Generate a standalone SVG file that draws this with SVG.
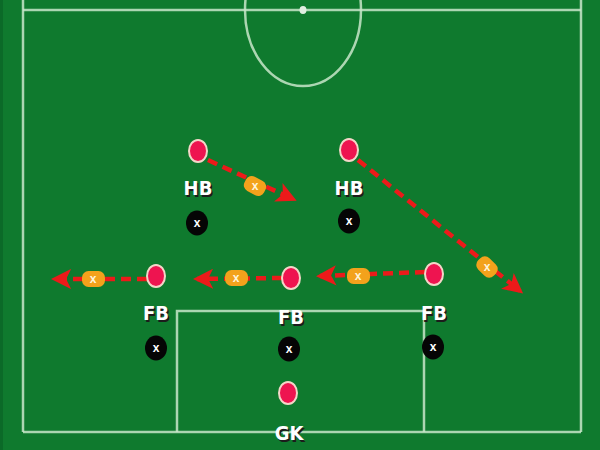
<svg xmlns="http://www.w3.org/2000/svg" width="600" height="450" viewBox="0 0 600 450">
<defs>
<style>
.line{fill:none;stroke:#c8e6c9;stroke-width:2.5;opacity:0.85}
.player{fill:#ee1450;stroke:#f4d6c8;stroke-width:2}
.opp{fill:#050505}
.lbl{font-family:"DejaVu Sans Condensed","Liberation Sans",Arial,sans-serif;font-weight:bold;font-size:20px;fill:#ffffff;text-anchor:middle}
.shadow{font-family:"DejaVu Sans Condensed","Liberation Sans",Arial,sans-serif;font-weight:bold;font-size:20px;fill:#1c1c1c;text-anchor:middle}
.ox{font-family:"Liberation Sans",Arial,sans-serif;font-weight:bold;font-size:12px;fill:#ffffff;text-anchor:middle}
.ball{fill:#f3a21c}
.bx{font-family:"Liberation Sans",Arial,sans-serif;font-weight:bold;font-size:12px;fill:#fff4d8;text-anchor:middle}
.run{fill:none;stroke:#ec1a1a;stroke-width:4.5;stroke-dasharray:10 6}
</style>
<marker id="ah" viewBox="0 0 10 10" refX="8" refY="5" markerWidth="4.5" markerHeight="4.5" orient="auto" markerUnits="strokeWidth">
<path d="M0,0 L10,5 L0,10 L2.5,5 Z" fill="#ec1a1a"/>
</marker>
</defs>
<rect x="0" y="0" width="600" height="450" fill="#0f7a2e"/>
<rect x="0" y="0" width="3" height="450" fill="#0b6a28"/>
<g id="pitch">
<line class="line" x1="23" y1="10" x2="581" y2="10"/>
<line class="line" x1="23" y1="0" x2="23" y2="432"/>
<line class="line" x1="581" y1="0" x2="581" y2="432"/>
<line class="line" x1="23" y1="432" x2="581" y2="432"/>
<ellipse class="line" cx="303" cy="10" rx="58" ry="76"/>
<ellipse cx="303" cy="10" rx="3.5" ry="4" fill="#dfeee0"/>
<polyline class="line" points="177,432 177,311 424,311 424,432"/>
</g>
<g id="connectors">
<path class="run" d="M208,160 L293,199" marker-end="url(#ah)"/>
<path class="run" d="M358,160 L520,291" marker-end="url(#ah)"/>
<path class="run" d="M147,279 L55,279" marker-end="url(#ah)"/>
<path class="run" d="M282,278 L197,279" marker-end="url(#ah)"/>
<path class="run" d="M425,272 L320,276" marker-end="url(#ah)"/>
</g>
<g id="balls">
<g id="ball1"><rect class="ball" x="244" y="178" width="22" height="16" rx="6.5" transform="rotate(28 255 186)"/><text class="bx" x="255" y="190">x</text></g>
<g id="ball2"><rect class="ball" x="82" y="271" width="23" height="16" rx="6.5"/><text class="bx" x="93" y="283">x</text></g>
<g id="ball3"><rect class="ball" x="225" y="270" width="23" height="16" rx="6.5"/><text class="bx" x="236" y="282">x</text></g>
<g id="ball4"><rect class="ball" x="347" y="268" width="23" height="16" rx="6.5"/><text class="bx" x="358" y="280">x</text></g>
<g id="ball5"><rect class="ball" x="476" y="259" width="22" height="16" rx="6.5" transform="rotate(45 487 267)"/><text class="bx" x="487" y="271">x</text></g>
</g>
<g id="hb1"><ellipse class="player" cx="198" cy="151" rx="9" ry="11"/><text class="shadow" x="199.5" y="196.5">HB</text><text class="lbl" x="198" y="195">HB</text></g>
<g id="hb2"><ellipse class="player" cx="349" cy="150" rx="9" ry="11"/><text class="shadow" x="350.5" y="196.5">HB</text><text class="lbl" x="349" y="195">HB</text></g>
<g id="fb1"><ellipse class="player" cx="156" cy="276" rx="9" ry="11"/><text class="shadow" x="157.5" y="321.5">FB</text><text class="lbl" x="156" y="320">FB</text></g>
<g id="fb2"><ellipse class="player" cx="291" cy="278" rx="9" ry="11"/><text class="shadow" x="292.5" y="325.5">FB</text><text class="lbl" x="291" y="324">FB</text></g>
<g id="fb3"><ellipse class="player" cx="434" cy="274" rx="9" ry="11"/><text class="shadow" x="435.5" y="321.5">FB</text><text class="lbl" x="434" y="320">FB</text></g>
<g id="gk"><ellipse class="player" cx="288" cy="393" rx="9" ry="11"/><text class="shadow" x="290.5" y="441.5">GK</text><text class="lbl" x="289" y="440">GK</text></g>
<g id="x1"><ellipse class="opp" cx="197" cy="223" rx="11" ry="12.5"/><text class="ox" x="197" y="227">x</text></g>
<g id="x2"><ellipse class="opp" cx="349" cy="221" rx="11" ry="12.5"/><text class="ox" x="349" y="225">x</text></g>
<g id="x3"><ellipse class="opp" cx="156" cy="348" rx="11" ry="12.5"/><text class="ox" x="156" y="352">x</text></g>
<g id="x4"><ellipse class="opp" cx="289" cy="349" rx="11" ry="12.5"/><text class="ox" x="289" y="353">x</text></g>
<g id="x5"><ellipse class="opp" cx="433" cy="347" rx="11" ry="12.5"/><text class="ox" x="433" y="351">x</text></g>
</svg>
